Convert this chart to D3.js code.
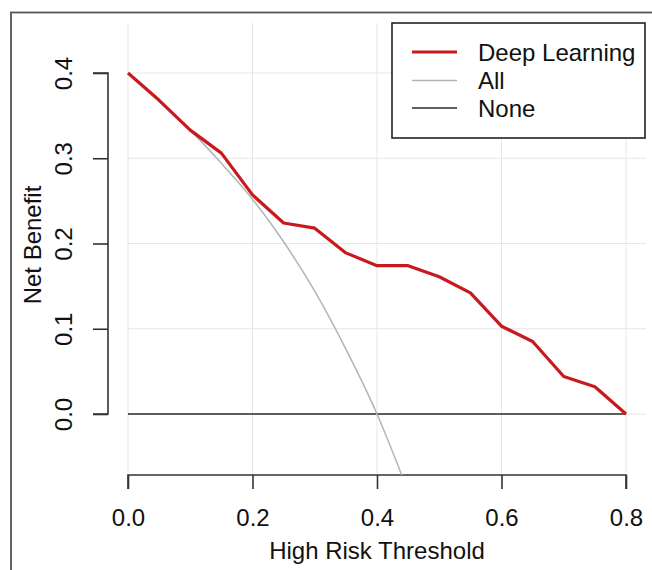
<!DOCTYPE html>
<html>
<head>
<meta charset="utf-8">
<script src="https://cdn.jsdelivr.net/npm/d3@7"></script>
<style>
  body { margin: 0; background: #fff; }
  svg text { font-family: "Liberation Sans", Arial, Helvetica, sans-serif; fill: #111; }
</style>
</head>
<body>
<div id="chart"></div>
<script>
// thresholds and net benefit
const thresholds = [0, 0.05, 0.10, 0.15, 0.20, 0.25, 0.30, 0.35, 0.40, 0.45, 0.50, 0.55, 0.60, 0.65, 0.70, 0.75, 0.80];
const deepLearning = [0.400, 0.368, 0.333, 0.306, 0.257, 0.224, 0.218, 0.189, 0.174, 0.174, 0.161, 0.142, 0.103, 0.085, 0.044, 0.032, 0.000];

const allThresholds = [0, 0.05, 0.10, 0.15, 0.20, 0.25, 0.30, 0.35, 0.40, 0.45];
const allValues = [0.400, 0.368, 0.333, 0.294, 0.252, 0.202, 0.144, 0.076, 0.000, -0.091];

const noneThresholds = [0, 0.80];
const noneValues = [0, 0];

const xTicks = [0, 0.2, 0.4, 0.6, 0.8];
const yTicks = [0, 0.1, 0.2, 0.3, 0.4];

const legendLabels = ['Deep Learning', 'All', 'None'];
const legendColors = ['#c8191e', '#b4b4b4', '#2a2a2a'];
const legendWidths = [3.2, 1.5, 1.6];

const width = 652, height = 570;
const fontSize = '24px';
// plot region
const plot = { left: 108, right: 646, top: 23, bottom: 475 };

const svg = d3.select('#chart')
    .append('svg')
    .attr('width', width)
    .attr('height', height);

const x = d3.scaleLinear().domain([0, 0.8]).range([128, 626]);
const y = d3.scaleLinear().domain([0, 0.4]).range([414, 73]);

// outer frame (runs off the right / bottom edge)
svg.append('rect')
    .attr('x', 11).attr('y', 12.5)
    .attr('width', 700).attr('height', 600)
    .attr('fill', 'none')
    .attr('stroke', '#555')
    .attr('stroke-width', 1.8);

svg.append('clipPath').attr('id', 'clip')
    .append('rect')
    .attr('x', plot.left).attr('y', plot.top)
    .attr('width', plot.right - plot.left)
    .attr('height', plot.bottom - plot.top);

// grid
const grid = svg.append('g');
grid.selectAll('.vgrid')
    .data(xTicks)
    .enter().append('line')
    .attr('x1', d => x(d)).attr('x2', d => x(d))
    .attr('y1', plot.top).attr('y2', plot.bottom)
    .attr('stroke', '#e6e6e6').attr('stroke-width', 1);
grid.selectAll('.hgrid')
    .data(yTicks)
    .enter().append('line')
    .attr('x1', x(0)).attr('x2', plot.right)
    .attr('y1', d => y(d)).attr('y2', d => y(d))
    .attr('stroke', '#e6e6e6').attr('stroke-width', 1);

// axes
const xAxis = svg.append('g')
    .attr('transform', `translate(0, ${plot.bottom})`)
    .call(d3.axisBottom(x).tickValues(xTicks).tickFormat(d3.format('.1f')).tickSize(14).tickPadding(20));
const yAxis = svg.append('g')
    .attr('transform', `translate(${plot.left}, 0)`)
    .call(d3.axisLeft(y).tickValues(yTicks).tickFormat(d3.format('.1f')).tickSize(15));

[xAxis, yAxis].forEach(ax => {
    ax.select('.domain').attr('stroke', '#333').attr('stroke-width', 1.6);
    ax.selectAll('.tick line').attr('stroke', '#333').attr('stroke-width', 1.6);
    ax.selectAll('.tick text').style('font-size', fontSize).attr('fill', '#111');
});
// the R-style axis line only spans the tick range
xAxis.select('.domain').attr('d', `M${x(0)},14V0H${x(0.8)}V14`);
yAxis.select('.domain').attr('d', `M-15,${y(0)}H0V${y(0.4)}H-15`);

yAxis.selectAll('.tick text')
    .attr('transform', 'translate(-36,0) rotate(-90)')
    .attr('x', 0).attr('y', 0)
    .attr('dy', '0')
    .style('text-anchor', 'middle');

xAxis.selectAll('.tick text').attr('dy', '0.71em');

// axis titles
svg.append('text')
    .attr('x', x(0.4)).attr('y', 559)
    .attr('text-anchor', 'middle')
    .style('font-size', fontSize)
    .text('High Risk Threshold');
svg.append('text')
    .attr('transform', `translate(41, 245) rotate(-90)`)
    .attr('text-anchor', 'middle')
    .style('font-size', fontSize)
    .text('Net Benefit');

// lines
const lines = svg.append('g').attr('clip-path', 'url(#clip)');
const line = d3.line().x(d => x(d[0])).y(d => y(d[1]));

lines.append('path')
    .datum(noneThresholds.map((t, i) => [t, noneValues[i]]))
    .attr('d', line)
    .attr('fill', 'none')
    .attr('stroke', legendColors[2])
    .attr('stroke-width', legendWidths[2]);

lines.append('path')
    .datum(allThresholds.map((t, i) => [t, allValues[i]]))
    .attr('d', d3.line().x(d => x(d[0])).y(d => y(d[1])).curve(d3.curveMonotoneX))
    .attr('fill', 'none')
    .attr('stroke', legendColors[1])
    .attr('stroke-width', legendWidths[1]);

lines.append('path')
    .datum(thresholds.map((t, i) => [t, deepLearning[i]]))
    .attr('d', line)
    .attr('fill', 'none')
    .attr('stroke', legendColors[0])
    .attr('stroke-width', legendWidths[0])
    .attr('stroke-linejoin', 'round');

// legend
const legend = svg.append('g');
legend.append('rect')
    .attr('x', 392).attr('y', 23)
    .attr('width', 253).attr('height', 115)
    .attr('fill', '#fff')
    .attr('stroke', '#222')
    .attr('stroke-width', 1.6);

const rowY = [52, 80.5, 108];
legendLabels.forEach((lab, i) => {
    legend.append('line')
        .attr('x1', 412).attr('x2', 457)
        .attr('y1', rowY[i]).attr('y2', rowY[i])
        .attr('stroke', legendColors[i])
        .attr('stroke-width', legendWidths[i]);
    legend.append('text')
        .attr('x', 478).attr('y', rowY[i])
        .attr('dy', '0.36em')
        .style('font-size', fontSize)
        .text(lab);
});
</script>
</body>
</html>
